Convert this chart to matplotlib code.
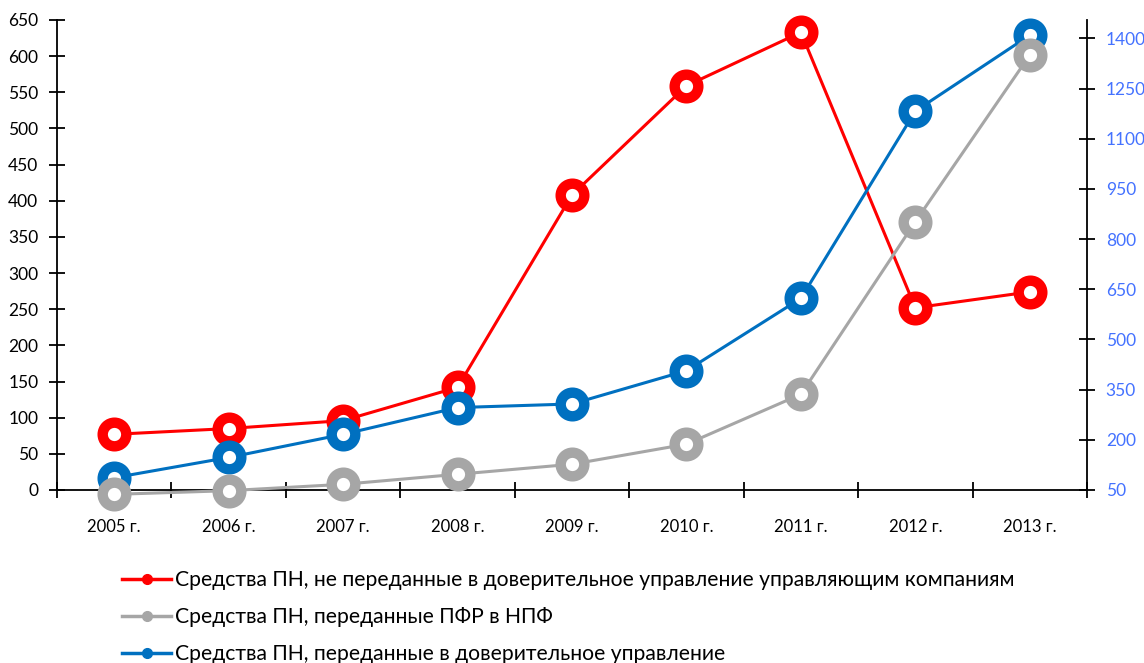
import matplotlib.pyplot as plt
from matplotlib.lines import Line2D
from matplotlib.ticker import FixedLocator, NullFormatter

plt.rcParams['font.family'] = ['Lato', 'DejaVu Sans']

years = ['2005 г.', '2006 г.', '2007 г.', '2008 г.', '2009 г.',
         '2010 г.', '2011 г.', '2012 г.', '2013 г.']

# left axis
not_transferred = [77, 85, 96, 142, 408, 559, 633, 252, 274]
trust_mgmt = [17, 45, 77, 114, 119, 165, 265, 524, 629]
# right axis
to_npf = [37, 48, 67, 97, 127, 187, 336, 852, 1350]

left_ticks = list(range(0, 651, 50))
right_ticks = list(range(50, 1401, 150))

labels = ['Средства ПН, не переданные в доверительное управление управляющим компаниям',
          'Средства ПН, переданные ПФР в НПФ',
          'Средства ПН, переданные в доверительное управление']

RED = '#FF0000'
GRAY = '#A6A6A6'
BLUE = '#0070C0'
RIGHT_LBL = '#4472FF'

fig = plt.figure(figsize=(11.44, 6.63), dpi=100)
ax = fig.add_axes([57 / 1144, 1 - 490 / 663, (1087 - 57) / 1144, 470 / 663])
ax2 = ax.twinx()

x = list(range(len(years)))
mk = dict(marker='o', markersize=17, markeredgewidth=7.5, markerfacecolor='white',
          linewidth=2.2, clip_on=False)

ax.plot(x, not_transferred, color=RED, markeredgecolor=RED, **mk)
ax.plot(x, trust_mgmt, color=BLUE, markeredgecolor=BLUE, **mk)
ax2.plot(x, to_npf, color=GRAY, markeredgecolor=GRAY, **mk)

ax.set_xlim(-0.5, len(years) - 0.5)
ax.set_ylim(0, 650)
ax2.set_ylim(50, 1455)

ax.set_xticks(x)
ax.set_xticklabels(years)
ax.xaxis.set_minor_locator(FixedLocator([i - 0.5 for i in range(len(years) + 1)]))
ax.xaxis.set_minor_formatter(NullFormatter())
ax.tick_params(axis='x', which='major', length=0, pad=21, labelsize=12)
ax.tick_params(axis='x', which='minor', direction='inout', length=11, width=1.3)

ax.set_yticks(left_ticks)
ax.tick_params(axis='y', direction='inout', length=11, width=1.3, labelsize=12.5, pad=8)
ax2.set_yticks(right_ticks)
ax2.tick_params(axis='y', direction='inout', length=11, width=1.3, labelsize=12.5,
                labelcolor=RIGHT_LBL, pad=8)

for a in (ax, ax2):
    a.spines['top'].set_visible(False)
    for s in a.spines.values():
        s.set_linewidth(1.3)
ax.spines['right'].set_visible(False)
ax2.spines['left'].set_visible(False)
ax2.spines['bottom'].set_visible(False)

handles = [Line2D([], [], color=c, linewidth=2.5, marker='o', markersize=7)
           for c in (RED, GRAY, BLUE)]
fig.legend(handles, labels, loc='upper left', bbox_to_anchor=(114 / 1144, 1 - 562 / 663),
           frameon=False, fontsize=15.2, handlelength=2.3, handletextpad=0.2,
           labelspacing=0.8, borderaxespad=0)

fig.savefig('out.png', dpi=100)
